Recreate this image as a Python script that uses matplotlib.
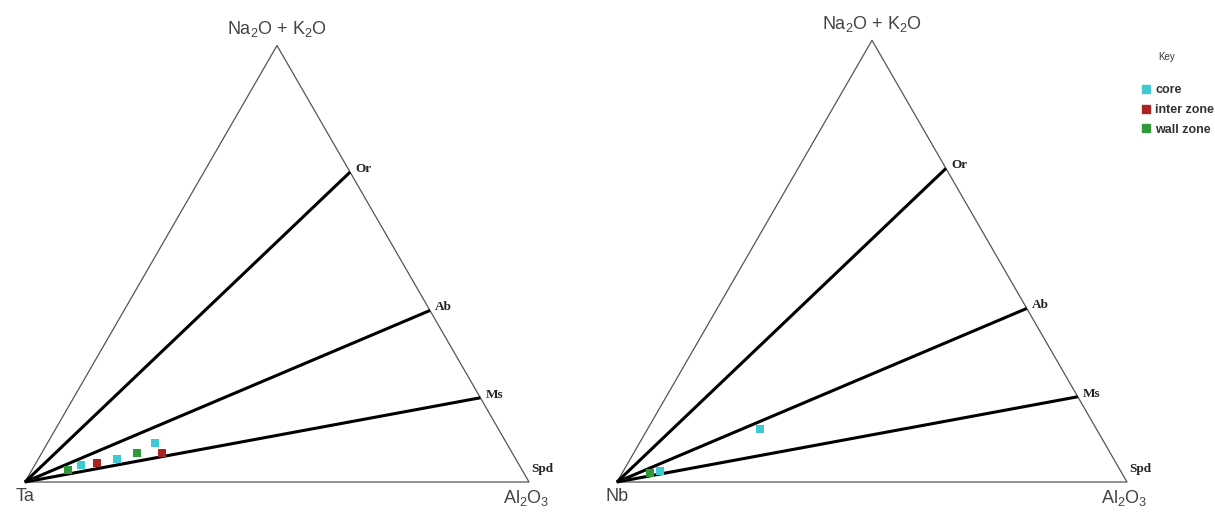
import numpy as np
import matplotlib
matplotlib.use('Agg')
import matplotlib.pyplot as plt
from matplotlib.lines import Line2D

plt.rcParams['font.family'] = ['Liberation Sans', 'DejaVu Sans']
plt.rcParams['mathtext.fontset'] = 'custom'
plt.rcParams['mathtext.rm'] = 'Liberation Sans'
plt.rcParams['mathtext.it'] = 'Liberation Sans'

# tie lines: end points on the Na2O+K2O - Al2O3 edge (fraction of Al2O3)
tie_names = ['Or', 'Ab', 'Ms', 'Spd']
tie_al = [0.29, 0.607, 0.807, 1.0]

zones = ['core', 'inter zone', 'wall zone']
zone_colors = ['#3ec9d3', '#a82424', '#2e9a3a']

# Ta diagram: (alkali fraction, Al2O3 fraction) per analysis
ta_zone = ['wall zone', 'core', 'inter zone', 'core', 'wall zone', 'core', 'inter zone']
ta_alk = [0.028, 0.039, 0.043, 0.052, 0.067, 0.090, 0.067]
ta_al = [0.072, 0.092, 0.121, 0.156, 0.188, 0.213, 0.238]

# Nb diagram
nb_zone = ['wall zone', 'core', 'core']
nb_alk = [0.020, 0.025, 0.120]
nb_al = [0.055, 0.072, 0.220]

H = np.sqrt(3) / 2


def to_xy(alk, al):
    alk = np.asarray(alk, dtype=float)
    al = np.asarray(al, dtype=float)
    return al + alk / 2, alk * H


def ternary(ax, corner, alk, al, zone):
    ax.set_xlim(0, 1)
    ax.set_ylim(0, H)
    ax.axis('off')
    ax.plot([0, 1, 0.5, 0], [0, 0, H, 0], color='#555555', lw=0.9,
            clip_on=False, zorder=2)
    for name, f in zip(tie_names, tie_al):
        x, y = to_xy(1 - f, f)
        if f < 1:
            ax.plot([0, x], [0, y], color='black', lw=2.2, clip_on=False,
                    solid_capstyle='butt', zorder=3)
            ax.text(x + 0.01, y + 0.006, name, fontsize=9.5, fontweight='bold',
                    family='Liberation Serif', color='#222222',
                    ha='left', va='center')
        else:
            ax.text(x + 0.005, y + 0.026, name, fontsize=9.5, fontweight='bold',
                    family='Liberation Serif', color='#222222',
                    ha='left', va='center')
    ax.text(0.5, H + 0.012, r'Na$_2$O + K$_2$O', fontsize=13,
            color='#444444', ha='center', va='bottom')
    ax.text(0.0, -0.012, corner, fontsize=13, color='#444444',
            ha='center', va='top')
    ax.text(0.995, -0.012, r'Al$_2$O$_3$', fontsize=13, color='#444444',
            ha='center', va='top')
    x, y = to_xy(alk, al)
    for z, c in zip(zones, zone_colors):
        m = np.array([q == z for q in zone])
        if m.any():
            ax.scatter(x[m], y[m], marker='s', s=38, color=c, lw=0,
                       clip_on=False, zorder=4)


fig = plt.figure(figsize=(12.15, 5.15), dpi=100)
W, Hpx = 1215.0, 515.0
ax1 = fig.add_axes([25 / W, 33 / Hpx, 504 / W, 504 * H / Hpx])
ax2 = fig.add_axes([617 / W, 33 / Hpx, 510 / W, 510 * H / Hpx])
ternary(ax1, 'Ta', ta_alk, ta_al, ta_zone)
ternary(ax2, 'Nb', nb_alk, nb_al, nb_zone)

# key
fig.text(1167 / W, 1 - 57 / Hpx, 'Key', fontsize=7, color='#333333',
         ha='center', va='center')
handles = [Line2D([], [], marker='s', ls='', color=c, markersize=6)
           for c in zone_colors]
leg = fig.legend(handles, zones, loc='upper left',
                 bbox_to_anchor=(1136 / W, 1 - 78 / Hpx), frameon=False,
                 handlelength=0.6, handletextpad=0.45, labelspacing=0.62,
                 borderpad=0, prop={'size': 9, 'weight': 'bold'})
for t in leg.get_texts():
    t.set_color('#333333')

fig.savefig('out.png', dpi=100)
